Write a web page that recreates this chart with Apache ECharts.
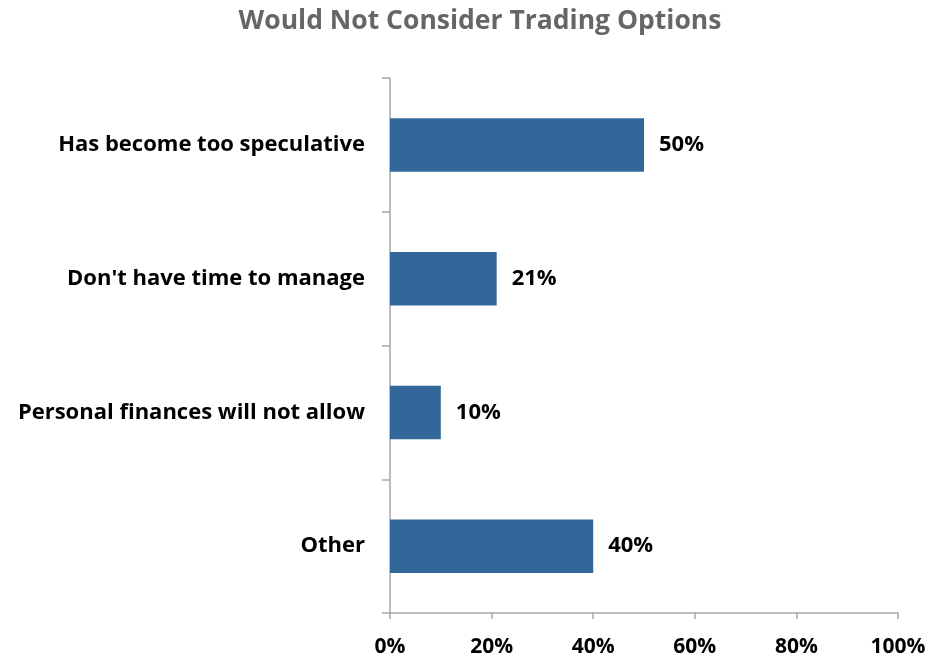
<!DOCTYPE html>
<html><head><meta charset="utf-8">
<script src="https://cdn.jsdelivr.net/npm/echarts@6/dist/echarts.min.js"></script>
<style>html,body{margin:0;padding:0;background:#fff}#c{width:930px;height:663px}</style>
</head><body><div id="c"></div>
<script>
const titleText = 'Would Not Consider Trading Options';
const categories = ['Has become too speculative', "Don't have time to manage", 'Personal finances will not allow', 'Other'];
const values = [50, 21, 10, 40];
const xTicks = [0, 20, 40, 60, 80, 100];

const FONT = 'Open Sans';
const chart = echarts.init(document.getElementById('c'));
chart.setOption({
  animation: false,
  title: {
    text: titleText, left: 475, textAlign: 'center', top: 3,
    textStyle: {fontFamily: FONT, fontWeight: 'bold', fontSize: 26.5, color: '#666666'}
  },
  grid: {left: 390, right: 32, top: 78, bottom: 50, containLabel: false},
  xAxis: {
    type: 'value', min: xTicks[0], max: xTicks[xTicks.length - 1], interval: 20,
    axisLine: {show: true, lineStyle: {color: '#a6a6a6', width: 1.5}},
    axisTick: {show: true, length: 6, lineStyle: {color: '#a6a6a6', width: 1.5}},
    splitLine: {show: false},
    axisLabel: {formatter: v => v + '%', fontFamily: FONT, fontWeight: 'bold', fontSize: 21, color: '#000', margin: 24}
  },
  yAxis: {
    type: 'category', data: categories, inverse: true,
    axisLine: {show: true, lineStyle: {color: '#a6a6a6', width: 1.5}},
    axisTick: {show: true, length: 8, lineStyle: {color: '#a6a6a6', width: 1.5}},
    axisLabel: {fontFamily: FONT, fontWeight: 'bold', fontSize: 22, color: '#000', margin: 25, padding: [3, 0, 0, 0]}
  },
  series: [{
    type: 'bar', data: values, barWidth: '40%',
    itemStyle: {color: '#336699'},
    label: {show: true, position: 'right', distance: 15, formatter: p => p.value + '%',
      fontFamily: FONT, fontWeight: 'bold', fontSize: 22, color: '#000', padding: [3, 0, 0, 0]}
  }]
});
</script></body></html>
